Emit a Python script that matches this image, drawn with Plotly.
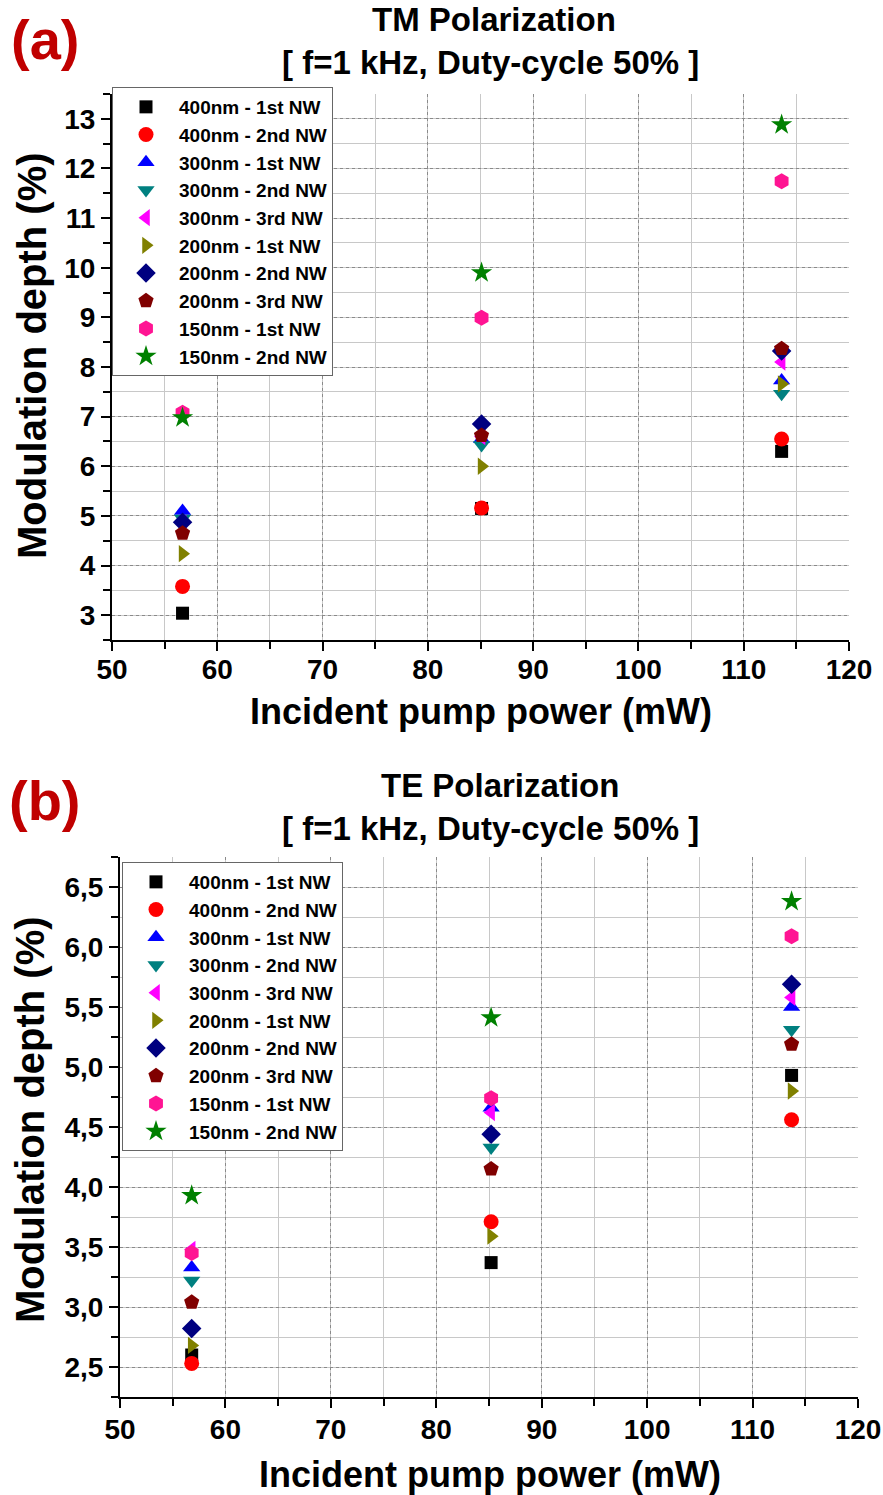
import plotly.graph_objects as go

# ---------------- data ----------------
series_names = ["400nm - 1st NW", "400nm - 2nd NW", "300nm - 1st NW", "300nm - 2nd NW",
                "300nm - 3rd NW", "200nm - 1st NW", "200nm - 2nd NW", "200nm - 3rd NW",
                "150nm - 1st NW", "150nm - 2nd NW"]
symbols = ["square", "circle", "triangle-up", "triangle-down", "triangle-left",
           "triangle-right", "diamond", "pentagon", "hexagon", "star"]
colors = ["#000000", "#FF0000", "#0000FF", "#008080", "#FF00FF",
          "#808000", "#000080", "#800000", "#FF1493", "#008000"]

power_tm = [56.7, 85.1, 113.6]
power_te = [56.8, 85.2, 113.7]

tm_400_1 = [3.04, 5.15, 6.30]
tm_400_2 = [3.58, 5.16, 6.55]
tm_300_1 = [5.10, 6.55, 7.73]
tm_300_2 = [4.95, 6.43, 7.46]
tm_300_3 = [4.85, 6.60, 8.10]
tm_200_1 = [4.24, 6.00, 7.66]
tm_200_2 = [4.87, 6.85, 8.32]
tm_200_3 = [4.65, 6.62, 8.37]
tm_150_1 = [7.08, 8.99, 11.74]
tm_150_2 = [6.98, 9.90, 12.88]

te_400_1 = [2.60, 3.37, 4.93]
te_400_2 = [2.53, 3.71, 4.56]
te_300_1 = [3.33, 4.66, 5.50]
te_300_2 = [3.22, 4.33, 5.31]
te_300_3 = [3.48, 4.62, 5.58]
te_200_1 = [2.68, 3.59, 4.80]
te_200_2 = [2.82, 4.44, 5.69]
te_200_3 = [3.04, 4.15, 5.19]
te_150_1 = [3.45, 4.74, 6.09]
te_150_2 = [3.93, 5.41, 6.38]

tm_values = [tm_400_1, tm_400_2, tm_300_1, tm_300_2, tm_300_3,
             tm_200_1, tm_200_2, tm_200_3, tm_150_1, tm_150_2]
te_values = [te_400_1, te_400_2, te_300_1, te_300_2, te_300_3,
             te_200_1, te_200_2, te_200_3, te_150_1, te_150_2]

x_ticks = [50, 60, 70, 80, 90, 100, 110, 120]
tm_y_ticks = [3, 4, 5, 6, 7, 8, 9, 10, 11, 12, 13]
te_y_ticks = [2.5, 3.0, 3.5, 4.0, 4.5, 5.0, 5.5, 6.0, 6.5]
te_y_ticktext = ["2,5", "3,0", "3,5", "4,0", "4,5", "5,0", "5,5", "6,0", "6,5"]

x_title = "Incident pump power (mW)"
y_title = "Modulation depth (%)"

# ---------------- layout helpers ----------------
W, H = 883, 1495
def px(x):
    return x / W
def py(y):
    return 1 - y / H

FONT = "Liberation Sans, Arial, sans-serif"

fig = go.Figure()

sizes = [13, 15, 15, 15, 15, 15, 15, 16, 16, 16]
for i, name in enumerate(series_names):
    fig.add_trace(go.Scatter(
        x=power_tm, y=tm_values[i], mode="markers", name=name,
        marker=dict(symbol=symbols[i], color=colors[i], size=sizes[i], line=dict(width=0)),
        xaxis="x", yaxis="y", legend="legend"))
for i, name in enumerate(series_names):
    fig.add_trace(go.Scatter(
        x=power_te, y=te_values[i], mode="markers", name=name,
        marker=dict(symbol=symbols[i], color=colors[i], size=sizes[i], line=dict(width=0)),
        xaxis="x2", yaxis="y2", legend="legend2"))

tickfont = dict(family=FONT, size=28, color="black", weight="bold")

def xaxis_common(domain, anchor, standoff):
    return dict(
        domain=domain, anchor=anchor, range=[50, 120], automargin=False,
        tickvals=x_ticks, ticks="outside", ticklen=9, tickwidth=2, tickcolor="black",
        ticklabelstandoff=standoff,
        showline=True, linecolor="black", linewidth=2, mirror=False,
        showgrid=True, gridcolor="#8a8a8a", gridwidth=1, griddash="dot",
        minor=dict(dtick=5, tick0=50, ticks="outside", ticklen=7, tickwidth=2, tickcolor="black",
                   showgrid=True, gridcolor="#c8c8c8", gridwidth=1, griddash="solid"),
        zeroline=False, tickfont=tickfont)

def yaxis_common(domain, anchor, rng, vals, text, mdt, m0):
    d = dict(
        domain=domain, anchor=anchor, range=rng, automargin=False,
        tickvals=vals, ticks="outside", ticklen=9, tickwidth=2, tickcolor="black",
        showline=True, linecolor="black", linewidth=2,
        showgrid=True, gridcolor="#8a8a8a", gridwidth=1, griddash="dot",
        minor=dict(dtick=mdt, tick0=m0, ticks="outside", ticklen=7, tickwidth=2, tickcolor="black",
                   showgrid=True, gridcolor="#c8c8c8", gridwidth=1, griddash="solid"),
        zeroline=False, tickfont=tickfont)
    if text is not None:
        d["ticktext"] = text
    return d

legend_font = dict(family=FONT, size=19, color="black", weight="bold")

fig.update_layout(
    width=W, height=H, margin=dict(l=0, r=0, t=0, b=0, autoexpand=False),
    paper_bgcolor="white", plot_bgcolor="white",
    xaxis=xaxis_common([px(112), px(849)], "y", -6),
    yaxis=yaxis_common([py(640), py(94)], "x", [2.5, 13.5], tm_y_ticks, None, 0.5, 2.5),
    xaxis2=xaxis_common([px(120), px(858)], "y2", -3),
    yaxis2=yaxis_common([py(1397), py(857)], "x2", [2.25, 6.75], te_y_ticks, te_y_ticktext, 0.25, 2.25),
    legend=dict(x=px(112), y=py(87), xanchor="left", yanchor="top",
                bgcolor="white", bordercolor="#666666", borderwidth=1,
                font=legend_font, itemwidth=56, tracegroupgap=0),
    legend2=dict(x=px(122), y=py(862), xanchor="left", yanchor="top",
                 bgcolor="white", bordercolor="#666666", borderwidth=1,
                 font=legend_font, itemwidth=56, tracegroupgap=0),
    showlegend=True,
)

ann_title = dict(family=FONT, size=33, color="black", weight="bold")
ann_label = dict(family=FONT, size=56, color="#C00000", weight="bold")
ax_title = dict(family=FONT, size=36, color="black", weight="bold")
ay_title = dict(family=FONT, size=40, color="black", weight="bold")

def ann(x, y, text, font, **kw):
    fig.add_annotation(x=px(x), y=py(y), xref="paper", yref="paper", text=text,
                       showarrow=False, font=font, xanchor="center",
                       yanchor=kw.pop("yanchor", "middle"), **kw)

ann(494, 20, "TM Polarization", ann_title)
ann(490, 62, "[ f=1 kHz, Duty-cycle 50% ]", ann_title)
ann(45, 40, "(a)", ann_label)
ann(481, 712, x_title, ax_title)
ann(32, 356, y_title, ay_title, textangle=-90)

ann(500, 785, "TE Polarization", ann_title)
ann(490, 828, "[ f=1 kHz, Duty-cycle 50% ]", ann_title)
ann(45, 800, "(b)", ann_label)
ann(490, 1474, x_title, ax_title)
ann(30, 1120, y_title, ay_title, textangle=-90)

fig.write_html("out.html",
               config={"displayModeBar": False},
               post_script="document.body.style.margin='0';document.body.style.overflow='hidden';")
